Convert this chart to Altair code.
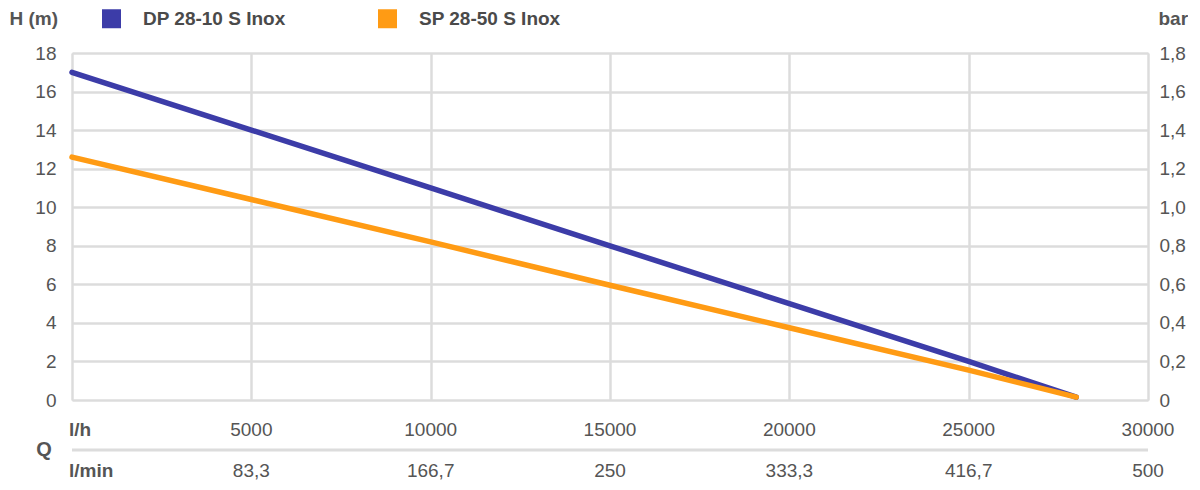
import altair as alt
import pandas as pd

# ---- data ----
q_points = [0, 5000, 10000, 15000, 20000, 25000, 28000]
h_dp = [17.0, 14.0, 11.0, 8.0, 5.0, 2.0, 0.15]
h_sp = [12.6, 10.4, 8.2, 5.95, 3.75, 1.55, 0.15]
series = ["DP 28-10 S Inox", "SP 28-50 S Inox"]
colors = ["#3c3ca8", "#ff9b14"]

h_ticks = [0, 2, 4, 6, 8, 10, 12, 14, 16, 18]
bar_ticks = [0, 0.2, 0.4, 0.6, 0.8, 1.0, 1.2, 1.4, 1.6, 1.8]
q_grid = [0, 5000, 10000, 15000, 20000, 25000, 30000]
q_label_pos = [5000, 10000, 15000, 20000, 25000, 30000]
lh_labels = ["5000", "10000", "15000", "20000", "25000", "30000"]
lmin_labels = ["83,3", "166,7", "250", "333,3", "416,7", "500"]

FONT = "Liberation Sans"
GRID = "#dcdcdc"
TXT = "#555555"
W, H = 1076, 347

lines_df = pd.DataFrame({
    "q": q_points * 2,
    "h": h_dp + h_sp,
    "series": [series[0]] * len(q_points) + [series[1]] * len(q_points),
})
labels_df = pd.DataFrame({"q": q_label_pos, "lh": lh_labels, "lmin": lmin_labels})
units_df = pd.DataFrame({"q": [0], "lh": ["l/h"], "lmin": ["l/min"]})

xenc = alt.X(
    "q:Q",
    scale=alt.Scale(domain=[0, 30000], nice=False, zero=False),
    axis=alt.Axis(values=q_grid, grid=True, labels=False, ticks=False, domain=False,
                  title=None, gridColor=GRID, gridWidth=2.5),
)

lines = alt.Chart(lines_df).mark_line(strokeCap="round", strokeJoin="round").encode(
    x=xenc,
    y=alt.Y("h:Q", scale=alt.Scale(domain=[0, 18], nice=False),
            axis=alt.Axis(values=h_ticks, grid=True, gridColor=GRID, gridWidth=2.5,
                          ticks=False, domain=False, labelFontSize=19, labelColor=TXT,
                          labelFont=FONT, labelPadding=16,
                          title="H (m)", titleAngle=0, titleAlign="left", titleBaseline="middle",
                          titleX=-63, titleY=-35, titleFontSize=19, titleFont=FONT,
                          titleFontWeight="bold", titleColor=TXT)),
    color=alt.Color("series:N", scale=alt.Scale(domain=series, range=colors),
                    legend=alt.Legend(title=None, orient="none", legendX=30, legendY=-44,
                                      direction="horizontal", symbolType="square",
                                      symbolSize=16, symbolStrokeWidth=15,
                                      labelFontSize=19, labelFont=FONT, labelFontWeight="bold",
                                      labelColor="#4a4a4a", labelOffset=22, columnPadding=69,
                                      padding=0)),
    strokeWidth=alt.value(5.5),
    order="q:Q",
)

right = alt.Chart(pd.DataFrame({"bar": [0, 1.8]})).mark_point(opacity=0).encode(
    y=alt.Y("bar:Q", scale=alt.Scale(domain=[0, 1.8], nice=False),
            axis=alt.Axis(orient="right", values=bar_ticks, grid=False, ticks=False, domain=False,
                          labelExpr="datum.value == 0 ? '0' : replace(format(datum.value, '.1f'), '.', ',')",
                          labelFontSize=19, labelColor=TXT, labelFont=FONT, labelPadding=11,
                          title="bar", titleAngle=0, titleAlign="left", titleBaseline="middle",
                          titleX=10, titleY=-35, titleFontSize=19, titleFont=FONT,
                          titleFontWeight="bold", titleColor=TXT)),
)

lh_text = alt.Chart(labels_df).mark_text(fontSize=19, font=FONT, color=TXT, baseline="middle").encode(
    x=xenc, y=alt.value(377), text="lh:N")
lmin_text = alt.Chart(labels_df).mark_text(fontSize=19, font=FONT, color=TXT, baseline="middle").encode(
    x=xenc, y=alt.value(418), text="lmin:N")
lh_unit = alt.Chart(units_df).mark_text(fontSize=19, font=FONT, color=TXT, baseline="middle",
                                        align="left", fontWeight="bold", dx=-3).encode(
    x=xenc, y=alt.value(377), text="lh:N")
lmin_unit = alt.Chart(units_df).mark_text(fontSize=19, font=FONT, color=TXT, baseline="middle",
                                          align="left", fontWeight="bold", dx=-3).encode(
    x=xenc, y=alt.value(418), text="lmin:N")
q_text = alt.Chart(pd.DataFrame({"t": ["Q"]})).mark_text(fontSize=20, font=FONT, color=TXT,
                                                        baseline="middle", fontWeight="bold").encode(
    x=alt.value(-28), y=alt.value(397), text="t:N")
sep = alt.Chart(pd.DataFrame({"t": ["Q"]})).mark_rule(color=GRID, strokeWidth=3).encode(
    x=alt.value(0), x2=alt.value(W), y=alt.value(397))

chart = alt.layer(lines, right, sep, lh_text, lmin_text, lh_unit, lmin_unit, q_text).resolve_scale(
    y="independent"
).properties(
    width=W, height=H,
    autosize=alt.AutoSizeParams(type="none"),
    padding={"left": 64, "top": 45, "right": 40, "bottom": 80},
).configure_view(stroke=GRID, strokeWidth=3).configure(font=FONT)

chart.save("out.html", embed_options={"renderer": "svg", "actions": False})
